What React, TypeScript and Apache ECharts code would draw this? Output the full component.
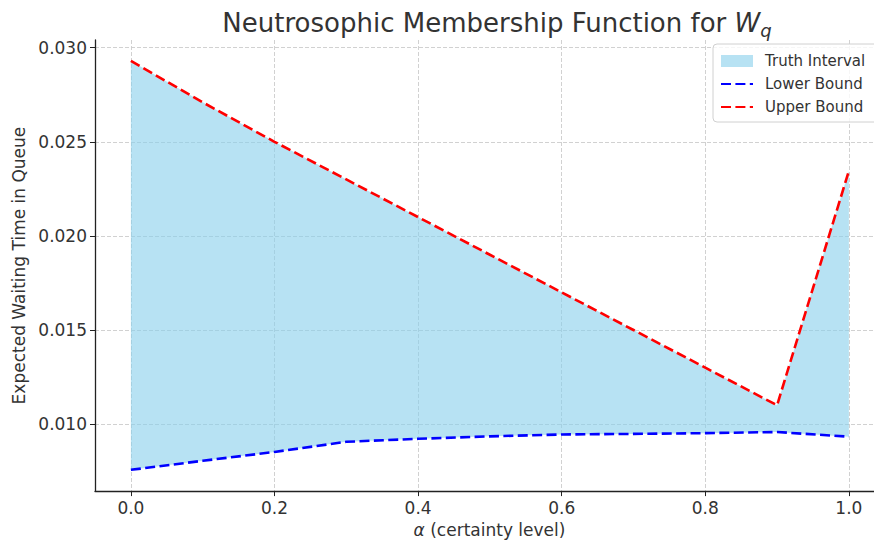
import React, { useEffect, useRef } from "react";
import * as echarts from "echarts";

const alpha = [0.0, 0.1, 0.2, 0.3, 0.4, 0.5, 0.6, 0.7, 0.8, 0.9, 1.0];
const lowerBound = [0.00757, 0.00805, 0.00852, 0.00906, 0.00922, 0.00935, 0.00945, 0.00948, 0.00952, 0.00958, 0.00933];
const upperBound = [0.0293, 0.0271, 0.025, 0.023, 0.021, 0.019, 0.017, 0.015, 0.013, 0.011, 0.02345];
const xTickLabels = ["0.0", "0.2", "0.4", "0.6", "0.8", "1.0"];
const yTickLabels = ["0.010", "0.015", "0.020", "0.025", "0.030"];

const FONT = "DejaVu Sans";
const TXT = "#333333";
const FILL = "rgba(135,206,235,0.6)";

export default function App() {
  const ref = useRef<HTMLDivElement>(null);
  useEffect(() => {
    if (!ref.current) return;
    const chart = echarts.init(ref.current, null, { renderer: "svg" });
    const lowerPts = alpha.map((a, i) => [a, lowerBound[i]]);
    const upperPts = alpha.map((a, i) => [a, upperBound[i]]);
    const bandData = alpha.map((a, i) => [a, lowerBound[i], upperBound[i]]);
    const fmtX = (v: number) => {
      const s = v.toFixed(1);
      return xTickLabels.includes(s) && Math.abs(v * 10 - Math.round(v * 10)) < 1e-6 ? s : "";
    };
    const fmtY = (v: number) => {
      const s = v.toFixed(3);
      return yTickLabels.includes(s) && Math.abs(v * 1000 - Math.round(v * 1000)) < 1e-6 ? s : "";
    };
    chart.setOption({
      animation: false,
      backgroundColor: "#ffffff",
      textStyle: { fontFamily: FONT },
      title: {
        text: "Neutrosophic Membership Function for {it|W}{sub|q}",
        left: 492,
        top: 1,
        textAlign: "center",
        textStyle: {
          fontFamily: FONT,
          fontSize: 26,
          fontWeight: "normal",
          color: TXT,
          rich: {
            it: { fontFamily: FONT, fontSize: 26, fontStyle: "italic", color: TXT },
            sub: { fontFamily: FONT, fontSize: 18, fontStyle: "italic", color: TXT, padding: [15, 0, 0, 0] },
          },
        },
      },
      legend: {
        orient: "vertical",
        left: 713,
        top: 44,
        padding: [9, 14, 7, 7],
        itemWidth: 32,
        itemHeight: 12,
        itemGap: 7,
        backgroundColor: "rgba(255,255,255,0.8)",
        borderColor: "#d0d0d0",
        borderWidth: 1,
        borderRadius: 4,
        textStyle: { fontFamily: FONT, fontSize: 15, color: TXT, lineHeight: 16, padding: [0, 0, 0, 7] },
        data: [
          { name: "Truth Interval", icon: "rect", itemStyle: { color: FILL } },
          { name: "Lower Bound", itemStyle: { opacity: 0 } },
          { name: "Upper Bound", itemStyle: { opacity: 0 } },
        ],
      },
      grid: { left: 95, right: 0, top: 40, bottom: 51, containLabel: false },
      xAxis: {
        type: "value",
        min: -0.05,
        max: 1.035,
        splitNumber: 5,
        name: "{it|α} (certainty level)",
        nameLocation: "middle",
        nameGap: 23,
        nameTextStyle: {
          fontFamily: FONT,
          fontSize: 17,
          color: TXT,
          padding: [0, 0, 0, 10],
          rich: { it: { fontFamily: FONT, fontSize: 17, fontStyle: "italic", color: TXT } },
        },
        axisLine: { show: true, onZero: false, lineStyle: { color: "#222", width: 1.3 } },
        axisTick: { show: true, length: 5, lineStyle: { color: "#222", width: 1 } },
        axisLabel: {
          fontFamily: FONT,
          fontSize: 17,
          color: TXT,
          margin: 8,
          showMinLabel: false,
          showMaxLabel: false,
          formatter: fmtX,
        },
        splitLine: {
          show: true,
          showMinLine: false,
          showMaxLine: false,
          lineStyle: { color: "#cccccc", type: [4, 2], width: 0.9 },
        },
      },
      yAxis: {
        type: "value",
        min: 0.00644,
        max: 0.03041,
        splitNumber: 5,
        name: "Expected Waiting Time in Queue",
        nameLocation: "middle",
        nameGap: 66,
        nameTextStyle: { fontFamily: FONT, fontSize: 17, color: TXT },
        axisLine: { show: true, onZero: false, lineStyle: { color: "#222", width: 1.3 } },
        axisTick: { show: true, length: 5, lineStyle: { color: "#222", width: 1 } },
        axisLabel: {
          fontFamily: FONT,
          fontSize: 17,
          color: TXT,
          margin: 8,
          showMinLabel: false,
          showMaxLabel: false,
          formatter: fmtY,
        },
        splitLine: {
          show: true,
          showMinLine: false,
          showMaxLine: false,
          lineStyle: { color: "#cccccc", type: [4, 2], width: 0.9 },
        },
      },
      series: [
        {
          name: "Truth Interval",
          type: "custom",
          data: bandData,
          encode: { x: 0, y: [1, 2] },
          itemStyle: { color: FILL },
          z: 2,
          renderItem: (params: any, api: any) => {
            if (params.dataIndex !== 0) return null;
            const pts: number[][] = [];
            for (let i = 0; i < alpha.length; i++) pts.push(api.coord([alpha[i], upperBound[i]]));
            for (let i = alpha.length - 1; i >= 0; i--) pts.push(api.coord([alpha[i], lowerBound[i]]));
            return {
              type: "polygon",
              shape: { points: pts },
              style: { fill: FILL, stroke: "none" },
            };
          },
        },
        {
          name: "Lower Bound",
          type: "line",
          data: lowerPts,
          symbol: "none",
          itemStyle: { color: "#0000ff" },
          lineStyle: { color: "#0000ff", width: 2.6, type: [10, 4.4] },
          z: 3,
        },
        {
          name: "Upper Bound",
          type: "line",
          data: upperPts,
          symbol: "none",
          itemStyle: { color: "#ff0000" },
          lineStyle: { color: "#ff0000", width: 2.6, type: [10, 4.4] },
          z: 4,
        },
      ],
    });
    return () => chart.dispose();
  }, []);
  return <div ref={ref} style={{ width: 874, height: 543, position: "absolute", left: 0, top: 0 }} />;
}
